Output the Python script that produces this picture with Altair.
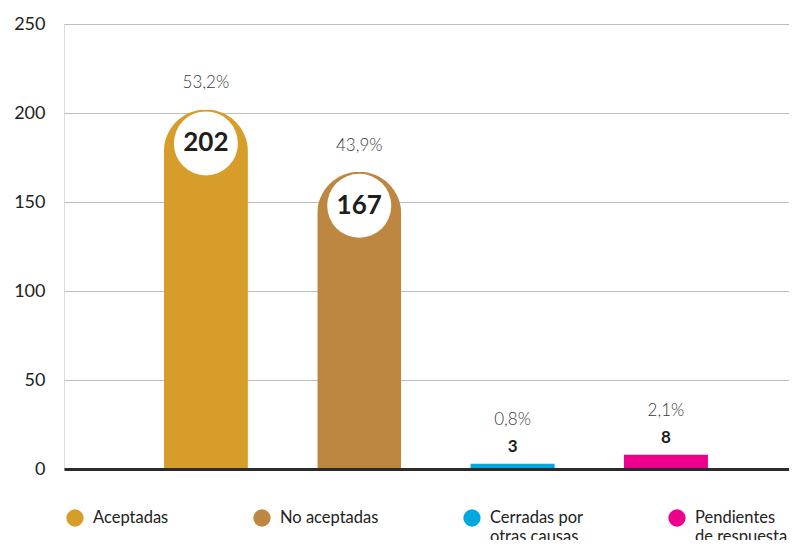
import altair as alt
import pandas as pd

categories = ["Aceptadas", "No aceptadas", "Cerradas por otras causas", "Pendientes de respuesta"]
values = [202, 167, 3, 8]
percents = ["53,2%", "43,9%", "0,8%", "2,1%"]
colors = ["#D69D2A", "#BD8742", "#00A8E1", "#EC008C"]
y_ticks = [0, 50, 100, 150, 200, 250]

df = pd.DataFrame({"cat": categories, "value": values, "pct": percents,
                   "big": [v > 50 for v in values]})

FONT = "Lato"

x = alt.X("cat:N", sort=categories,
          scale=alt.Scale(paddingInner=0.452, paddingOuter=0.59, align=0.552),
          axis=alt.Axis(labels=False, ticks=False, title=None, domainColor="#2b2b2b",
                        domainWidth=3, grid=False, zindex=2))
y = alt.Y("value:Q", scale=alt.Scale(domain=[0, 250], nice=False),
          axis=alt.Axis(values=y_ticks, title=None, domain=False, ticks=False,
                        labelFontSize=18, labelColor="#222222", labelPadding=19,
                        labelFont=FONT, gridColor="#bdbdbd", gridWidth=1.2))
legend_expr = ("datum.label == 'Cerradas por otras causas' ? ['Cerradas por', 'otras causas'] : "
               "datum.label == 'Pendientes de respuesta' ? ['Pendientes', 'de respuesta'] : [datum.label, ' ']")
color = alt.Color("cat:N", sort=categories,
                  scale=alt.Scale(domain=categories, range=colors),
                  legend=alt.Legend(title=None, orient="none", legendX=2, legendY=485,
                                    direction="horizontal", columns=4, symbolType="circle",
                                    symbolSize=300, symbolStrokeWidth=0, symbolOpacity=1,
                                    labelFontSize=16.5, labelColor="#222222", labelFont=FONT,
                                    columnPadding=84, labelOffset=9, labelLimit=300,
                                    labelExpr=legend_expr))

base = alt.Chart(df).encode(x=x, y=y)

big = base.transform_filter("datum.big")
small = base.transform_filter("!datum.big")

bars_big = big.mark_bar(cornerRadiusTopLeft=42, cornerRadiusTopRight=42).encode(color=color)
bars_small = small.mark_bar().encode(color=color)

circles = big.mark_point(shape="circle", filled=True, color="white", opacity=1,
                         size=4100, yOffset=34)
big_vals = big.mark_text(font=FONT, fontWeight="bold", fontSize=26, color="#1e1e1e",
                         dy=34, baseline="middle").encode(text="value:Q")
big_pct = big.mark_text(font=FONT, fontWeight=300, fontSize=17, color="#3a3a3a",
                        dy=-26, baseline="middle").encode(text="pct:N")
small_vals = small.mark_text(font=FONT, fontWeight="bold", fontSize=17, color="#1e1e1e",
                             dy=-17, baseline="middle").encode(text="value:Q")
small_pct = small.mark_text(font=FONT, fontWeight=300, fontSize=17, color="#3a3a3a",
                            dy=-44, baseline="middle").encode(text="pct:N")

chart = alt.layer(bars_big, bars_small, circles, big_vals, big_pct, small_vals, small_pct).properties(
    width=725, height=445,
    autosize=alt.AutoSizeParams(type="none"),
    padding={"left": 56, "top": 16, "right": 0, "bottom": 71},
).configure_view(stroke=None).configure(background="white")

chart.save("out.html", embed_options={"renderer": "svg", "actions": False})
